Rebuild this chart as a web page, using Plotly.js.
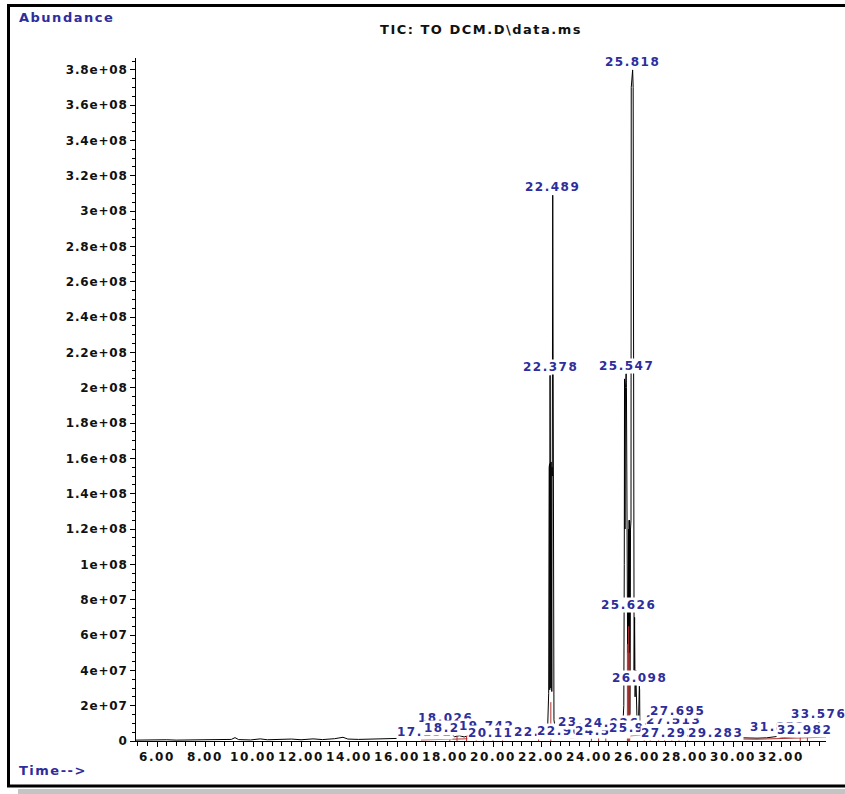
<!DOCTYPE html>
<html>
<head>
<meta charset="utf-8">
<script src="https://cdn.plot.ly/plotly-3.0.1.min.js"></script>
<style>
  html, body { margin: 0; padding: 0; background: #fff; }
  #chart { width: 845px; height: 794px; }
  .annotation-text { letter-spacing: 1.5px; }
  .gtitle { letter-spacing: 1.5px; }
  .xtick text { letter-spacing: 1.6px; }
  .ytick text { letter-spacing: 0.8px; }
</style>
</head>
<body>
<div id="chart"></div>
<script>
// Total ion current: retention time (min) and abundance
const ticTime = [
  5.125, 5.5, 6.0, 6.4, 6.8, 7.3, 7.8, 8.3, 8.8, 9.1, 9.25, 9.4, 9.9, 10.3, 10.6,
  11.1, 11.6, 12.0, 12.5, 12.9, 13.4, 13.75, 13.95, 14.4, 14.9, 15.4, 15.9, 16.4,
  16.8, 17.0, 17.152, 17.3, 17.6, 17.85, 18.026, 18.1, 18.265, 18.4, 18.6, 18.8,
  19.05, 19.3, 19.5, 19.742, 19.9, 20.118, 20.3, 20.5, 20.7, 21.0, 21.3, 21.6,
  21.85, 22.024, 22.12, 22.2, 22.28, 22.32,
  22.34, 22.35, 22.36, 22.365, 22.378, 22.39, 22.40, 22.41, 22.42, 22.43, 22.44,
  22.45, 22.46, 22.47, 22.489, 22.50, 22.51, 22.54, 22.60, 22.70,
  22.8, 22.962, 23.1, 23.4, 23.6, 23.853, 24.05, 24.3, 24.563, 24.75, 24.926,
  25.1, 25.3, 25.40, 25.45, 25.47, 25.48, 25.50, 25.52, 25.547, 25.56, 25.575,
  25.59, 25.60, 25.61, 25.626, 25.64, 25.65, 25.66, 25.67, 25.68, 25.69, 25.70,
  25.71, 25.72, 25.73, 25.75, 25.76, 25.818, 25.84, 25.85, 25.86, 25.87, 25.88,
  25.90, 25.92, 25.95, 25.972, 26.0, 26.06, 26.08, 26.098, 26.11, 26.12, 26.2,
  26.4, 26.6, 26.8, 27.0, 27.293, 27.4, 27.513, 27.6, 27.695, 27.8,
  28.0, 28.3, 28.6, 28.9, 29.1, 29.283, 29.45, 29.8, 30.2, 30.6, 31.0, 31.4,
  31.852, 32.1, 32.4, 32.7, 32.982, 33.15, 33.4, 33.52, 33.576, 33.63, 33.875
];
const ticAbundance = [
  0.5e6, 0.6e6, 0.4e6, 0.7e6, 0.5e6, 0.6e6, 0.5e6, 0.8e6, 0.6e6, 0.9e6, 1.9e6, 0.8e6, 0.6e6, 1.2e6, 0.7e6,
  0.8e6, 1.1e6, 0.7e6, 1.2e6, 0.8e6, 1.3e6, 2.1e6, 1.1e6, 0.9e6, 1.1e6, 0.9e6, 1.2e6, 1.4e6,
  1.5e6, 1.8e6, 3.2e6, 1.7e6, 2.0e6, 2.4e6, 7.5e6, 2.6e6, 4.0e6, 2.4e6, 3.0e6, 2.3e6,
  3.4e6, 2.5e6, 2.9e6, 4.2e6, 2.6e6, 4.5e6, 2.4e6, 3.6e6, 2.2e6, 2.0e6, 2.4e6, 2.1e6,
  2.8e6, 5.0e6, 3.0e6, 4.0e6, 9.0e6, 2.7e7,
  1.55e8, 3.0e7, 1.57e8, 2.9e7, 2.07e8, 3.0e7, 1.56e8, 3.0e7, 1.58e8, 3.0e7, 1.57e8,
  2.8e7, 1.55e8, 1.5e8, 3.09e8, 1.5e8, 2.7e7, 1.2e7, 6.0e6, 4.0e6,
  3.2e6, 4.0e6, 2.8e6, 3.0e6, 2.6e6, 4.0e6, 3.0e6, 3.8e6, 5.0e6, 3.2e6, 4.2e6,
  3.4e6, 4.5e6, 6.0e6, 2.0e7, 1.0e8, 2.05e8, 1.2e8, 2.0e8, 2.08e8, 2.0e8, 1.15e8,
  7.0e7, 1.2e8, 5.0e7, 7.25e7, 5.0e7, 1.2e8, 1.5e7, 1.25e8, 6.5e7, 1.25e8, 1.5e7,
  1.25e8, 6.0e7, 1.2e8, 1.25e8, 3.7e8, 3.8e8, 3.7e8, 1.2e8, 6.0e7, 1.1e8, 4.0e7,
  7.0e7, 2.5e7, 4.0e7, 1.8e7, 1.2e7, 1.0e7, 2.9e7, 3.1e7, 2.9e7, 8.0e6, 5.5e6,
  5.0e6, 4.2e6, 5.0e6, 4.6e6, 6.0e6, 4.8e6, 7.0e6, 5.0e6, 8.0e6, 4.8e6,
  4.2e6, 3.8e6, 3.2e6, 2.8e6, 2.5e6, 4.0e6, 2.3e6, 2.0e6, 1.8e6, 1.7e6, 1.6e6, 1.8e6,
  2.6e6, 2.0e6, 2.2e6, 2.5e6, 4.5e6, 2.6e6, 2.4e6, 2.6e6, 1.05e7, 2.7e6, 2.9e6
];

// Integration baseline (red)
const baseTime = [17.0, 18.0, 19.0, 20.0, 21.0, 22.2, 22.7, 23.5, 24.5, 25.4, 26.2, 26.8,
                  27.4, 28.0, 28.6, 29.3, 30.0, 31.0, 32.0, 33.0, 33.875];
const baseAbundance = [0.6e6, 1.0e6, 1.4e6, 1.6e6, 1.7e6, 1.9e6, 1.8e6, 1.7e6, 2.0e6, 2.6e6, 3.4e6, 4.2e6,
                       4.6e6, 4.6e6, 3.6e6, 1.8e6, 1.2e6, 1.0e6, 1.2e6, 1.8e6, 2.2e6];

// Integration drop lines (red)
const dropTime = [18.2, 18.5, 18.9, 19.3, 19.6, 20.0, 20.4, 21.9, 22.41, 24.1, 24.4, 24.7,
                  25.60, 25.65, 25.695, 26.3, 26.55, 26.9, 27.15, 27.45, 27.75, 28.1, 32.8, 33.1];
const dropAbundance = [3.0e6, 3.5e6, 2.8e6, 3.8e6, 3.0e6, 4.0e6, 3.2e6, 3.5e6, 2.2e7, 3.5e6, 4.0e6, 3.6e6,
                       5.5e7, 6.5e7, 5.0e7, 5.5e6, 5.0e6, 6.0e6, 5.5e6, 6.5e6, 6.0e6, 5.0e6, 3.0e6, 3.2e6];

// Peaks labelled at their apex
const apexLabelTimes = [22.378, 22.489, 25.547, 25.626, 25.818, 26.098];
// Small peaks whose labels are stacked just above the baseline: [time, label row abundance]
const rowLabels = [
  [17.152, 5.1e6], [18.026, 13.0e6], [18.265, 7.4e6], [19.742, 8.5e6], [20.118, 4.5e6],
  [22.024, 5.1e6], [22.962, 5.7e6], [23.853, 10.8e6], [24.563, 5.7e6], [24.926, 10.2e6],
  [25.972, 7.4e6], [27.293, 4.5e6], [27.513, 11.9e6], [27.695, 17.0e6], [29.283, 4.5e6],
  [31.852, 7.9e6], [32.982, 6.2e6], [33.576, 15.3e6]
];

const yTickVals = [0, 2e7, 4e7, 6e7, 8e7, 1e8, 1.2e8, 1.4e8, 1.6e8, 1.8e8, 2e8,
                   2.2e8, 2.4e8, 2.6e8, 2.8e8, 3e8, 3.2e8, 3.4e8, 3.6e8, 3.8e8];
const yTickText = ['0', '2e+07', '4e+07', '6e+07', '8e+07', '1e+08', '1.2e+08', '1.4e+08',
                   '1.6e+08', '1.8e+08', '2e+08', '2.2e+08', '2.4e+08', '2.6e+08', '2.8e+08',
                   '3e+08', '3.2e+08', '3.4e+08', '3.6e+08', '3.8e+08'];

const FONT = 'DejaVu Sans, Verdana, sans-serif';
const LABEL_BLUE = '#2d2d9c';

// frame geometry (pixels) mapped into paper coordinates
const M = { l: 136, r: 19, t: 58, b: 53 };
const W = 845, H = 794;
const PW = W - M.l - M.r, PH = H - M.t - M.b;
const px = x => (x - M.l) / PW;
const py = y => (H - M.b - y) / PH;

// drop line segments
const dropX = [], dropY = [];
dropTime.forEach((t, i) => { dropX.push(t, t, null); dropY.push(0, dropAbundance[i], null); });

const traces = [
  { x: ticTime, y: ticAbundance, type: 'scatter', mode: 'lines',
    line: { color: '#000', width: 1 }, hoverinfo: 'skip' },
  { x: baseTime, y: baseAbundance, type: 'scatter', mode: 'lines',
    line: { color: '#b03030', width: 1 }, hoverinfo: 'skip' },
  { x: dropX, y: dropY, type: 'scatter', mode: 'lines', connectgaps: false,
    line: { color: '#b03030', width: 1 }, hoverinfo: 'skip' }
];

const labelFont = { family: FONT, size: 12, color: LABEL_BLUE, weight: 'bold' };
const peakAnns = [];
apexLabelTimes.forEach(t => {
  const idx = ticTime.indexOf(t);
  peakAnns.push({ t: t, y: ticAbundance[idx], anchor: 'bottom' });
});
rowLabels.forEach(r => peakAnns.push({ t: r[0], y: r[1], anchor: 'middle' }));
peakAnns.sort((a, b) => a.t - b.t);

const annotations = peakAnns.map(a => ({
  x: a.t, y: a.y, xref: 'x', yref: 'y', text: a.t.toFixed(3),
  showarrow: false, xanchor: 'center', yanchor: a.anchor,
  bgcolor: '#ffffff', borderpad: 0, font: labelFont
}));

annotations.push(
  { x: px(17), y: py(17), xref: 'paper', yref: 'paper', text: 'Abundance',
    showarrow: false, xanchor: 'left', yanchor: 'middle',
    font: { family: FONT, size: 13, color: LABEL_BLUE, weight: 'bold' } },
  { x: px(17), y: py(770), xref: 'paper', yref: 'paper', text: 'Time-->',
    showarrow: false, xanchor: 'left', yanchor: 'middle',
    font: { family: FONT, size: 13, color: LABEL_BLUE, weight: 'bold' } }
);

const shapes = [
  { type: 'rect', xref: 'paper', yref: 'paper', layer: 'below',
    x0: px(18), x1: px(870), y0: py(789), y1: py(805),
    fillcolor: '#c4c4c4', line: { width: 0 } },
  { type: 'rect', xref: 'paper', yref: 'paper', layer: 'above',
    x0: px(8.5), x1: px(870), y0: py(786), y1: py(5.5),
    fillcolor: 'rgba(0,0,0,0)', line: { color: '#000', width: 3 } }
];

const tickFont = { family: FONT, size: 12, color: '#111', weight: 'bold' };

const layout = {
  width: W, height: H,
  margin: M,
  paper_bgcolor: '#fff', plot_bgcolor: '#fff',
  showlegend: false,
  hovermode: false,
  title: {
    text: 'TIC: TO DCM.D\\data.ms',
    font: { family: FONT, size: 13, color: '#111', weight: 'bold' },
    x: 0.5, xref: 'paper', xanchor: 'center',
    y: py(50), yref: 'paper', yanchor: 'middle'
  },
  xaxis: {
    range: [5.125, 33.875],
    tickmode: 'linear', tick0: 0, dtick: 2, tickformat: '.2f', tickangle: 0,
    ticks: 'outside', ticklen: 5, tickwidth: 1, tickcolor: '#000',
    minor: { ticks: 'outside', tick0: 0, dtick: 0.4, ticklen: 4, tickwidth: 1, tickcolor: '#000' },
    showline: true, linecolor: '#000', linewidth: 1,
    showgrid: false, zeroline: false,
    tickfont: tickFont
  },
  yaxis: {
    range: [0, 3.867e8],
    tickmode: 'array', tickvals: yTickVals, ticktext: yTickText,
    ticks: 'outside', ticklen: 5, tickwidth: 1, tickcolor: '#000',
    minor: { ticks: 'outside', tick0: 0, dtick: 5e6, ticklen: 3, tickwidth: 1, tickcolor: '#000' },
    showline: true, linecolor: '#000', linewidth: 1,
    showgrid: false, zeroline: false,
    tickfont: tickFont
  },
  annotations: annotations,
  shapes: shapes
};

Plotly.newPlot('chart', traces, layout, { staticPlot: true, displayModeBar: false });
</script>
</body>
</html>
